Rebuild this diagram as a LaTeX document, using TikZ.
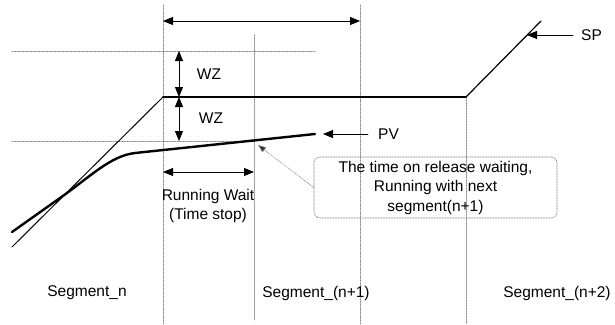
\documentclass[tikz,border=0pt]{standalone}
\usepackage{fontspec}
\setmainfont{Liberation Sans}
\usetikzlibrary{arrows}
\usetikzlibrary{arrows.meta,calc}

\begin{document}
\begin{tikzpicture}[line cap=round,line join=round,>={Triangle[length=10pt,width=8pt]},x=1pt,y=-1pt]
                \tikzset{grid/.style={line width=0.6pt,color=gray,densely dotted},
                         lbl/.style={font=\fontsize{15.5}{19.5}\selectfont,inner sep=1pt}}
                \useasboundingbox (0,0) rectangle (615,324);
                % guide lines
                \draw [grid] (163,5)-- (163,324);
                \draw [grid] (254,35)-- (254,320);
                \draw [grid] (360,5)-- (360,324);
                \draw [grid] (466,97)-- (466,324);
                \draw [grid] (12,51)-- (315,51);
                \draw [grid] (12,141)-- (255,141);
                % set point
                \coordinate (s0) at (12,247);
                \coordinate (s1) at (163,97);
                \coordinate (s2) at (466,97);
                \coordinate (s3) at (541,21);
                \draw [line width=1pt] (s0)-- (s1);
                \draw [line width=1.6pt] (s1)-- (s2);
                \draw [line width=1.2pt] (s2)-- (s3);
                % process value
                \coordinate (p0) at (12,232);
                \coordinate (p1) at (315,134);
                \draw [line width=2.4pt] (p0)-- (60,198) .. controls (90,177) and (110,156) .. (135,153)-- (p1);
                % arrows
                \draw [<->,line width=0.8pt] (163,21)-- (360,21);
                \draw [<->,line width=0.8pt] (179,51)-- (179,97);
                \draw [<->,line width=0.8pt] (179,97)-- (179,141);
                \draw [<->,line width=0.8pt] (163,172)-- (254,172);
                \node[lbl] (wz1) at (209,74) {WZ};
                \node[lbl] (wz2) at (211,118) {WZ};
                \node[lbl,anchor=west] (pv) at (377,134) {PV};
                \node[lbl,anchor=west] (sp) at (580,35) {SP};
                \coordinate (pvtip) at (323,134);
                \coordinate (sptip) at (527,35);
                \draw [->,line width=0.8pt,shorten <=9pt] (pv.west)-- (pvtip);
                \draw [->,line width=0.8pt,shorten <=7pt] (sp.west)-- (sptip);
                \node[lbl,align=center] (wait) at (208,206) {Running Wait\\(Time stop)};
                % callout
                \node[lbl,align=center,draw=black!55,line width=0.6pt,densely dotted,rounded corners=6pt,
                      minimum width=243pt,minimum height=61pt] (note) at (435.5,187.5)
                      {The time on release waiting,\\Running with next\\segment(n+1)};
                \coordinate (notetip) at (258,145);
                \draw [-{Triangle[length=8pt,width=6pt,fill=black!80]},grid] (note.west)-- (notetip);
                % segments
                \node[lbl] (segn) at (87,293) {Segment\_n};
                \node[lbl] (segn1) at (316,293) {Segment\_(n+1)};
                \node[lbl] (segn2) at (557,293) {Segment\_(n+2)};
            \end{tikzpicture}
\end{document}
